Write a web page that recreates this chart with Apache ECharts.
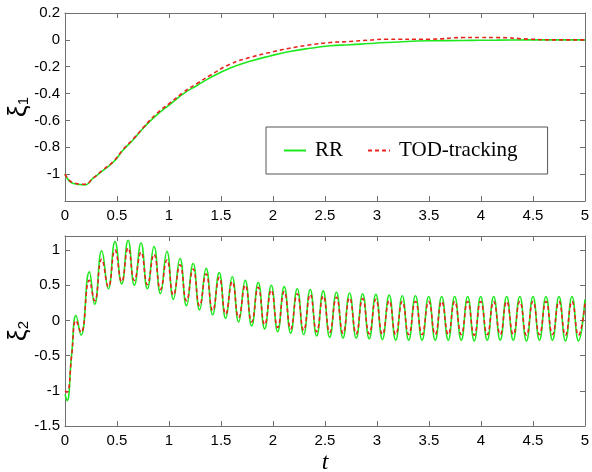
<!DOCTYPE html>
<html>
<head>
<meta charset="utf-8">
<script src="https://cdn.jsdelivr.net/npm/echarts@6/dist/echarts.min.js"></script>
<style>
	html, body { margin: 0; padding: 0; background: #fff; }
	#main { width: 592px; height: 472px; }
</style>
</head>
<body>
<div id="main"></div>
<script>
	// xi_1 samples (top panel)
	var t1 = [0, 0.08, 0.19, 0.27, 0.37, 0.465, 0.56, 0.66, 0.75, 0.88, 1.01, 1.14, 1.27, 1.39, 1.59, 1.78, 1.97, 2.16, 2.36, 2.55, 2.74, 2.93, 3.09, 3.51, 3.83, 3.99, 4.15, 4.47, 4.7, 5.0];
	var xi1RR = [-1.0, -1.07, -1.08, -1.03, -0.97, -0.91, -0.82, -0.74, -0.66, -0.56, -0.48, -0.40, -0.34, -0.285, -0.21, -0.16, -0.12, -0.087, -0.062, -0.044, -0.037, -0.027, -0.02, -0.007, -0.005, -0.003, -0.002, 0, 0, 0];
	var xi1TOD = [-1.0, -1.065, -1.075, -1.03, -0.965, -0.905, -0.815, -0.735, -0.655, -0.55, -0.47, -0.39, -0.325, -0.267, -0.18, -0.131, -0.094, -0.062, -0.037, -0.02, -0.012, -0.002, 0.005, 0.005, 0.017, 0.017, 0.017, 0.005, 0, 0];

	// xi_2 samples (bottom panel), peaks and troughs
	var t2 = [0, 0.02, 0.064, 0.106, 0.154, 0.234, 0.285, 0.353, 0.417, 0.481, 0.545, 0.607, 0.667, 0.731, 0.792, 0.856, 0.918, 0.98, 1.042, 1.106,
		1.168, 1.232, 1.294, 1.357, 1.42, 1.483, 1.545, 1.608, 1.67, 1.733, 1.795, 1.858, 1.92, 1.983, 2.045, 2.108, 2.17, 2.233, 2.295, 2.358,
		2.42, 2.483, 2.545, 2.61, 2.673, 2.736, 2.8, 2.862, 2.925, 2.989, 3.052, 3.117, 3.18, 3.243, 3.305, 3.37, 3.433, 3.497, 3.56, 3.622,
		3.685, 3.747, 3.81, 3.872, 3.935, 3.997, 4.06, 4.122, 4.185, 4.247, 4.31, 4.373, 4.437, 4.5, 4.562, 4.625, 4.687, 4.75, 4.812, 4.875,
		4.937, 5.0];
	var xi2RR = [-1.05, -1.14, -0.48, 0.07, -0.21, 0.69, 0.23, 0.99, 0.45, 1.12, 0.52, 1.14, 0.50, 1.10, 0.45, 1.05, 0.38, 0.98, 0.30, 0.88,
		0.21, 0.81, 0.15, 0.74, 0.08, 0.68, 0.03, 0.62, -0.02, 0.57, -0.08, 0.54, -0.12, 0.50, -0.16, 0.48, -0.18, 0.45, -0.20, 0.44,
		-0.22, 0.42, -0.24, 0.40, -0.25, 0.39, -0.25, 0.38, -0.26, 0.37, -0.27, 0.36, -0.28, 0.35, -0.28, 0.35, -0.28, 0.34, -0.28, 0.34,
		-0.28, 0.34, -0.28, 0.34, -0.29, 0.34, -0.28, 0.34, -0.28, 0.34, -0.28, 0.34, -0.29, 0.34, -0.28, 0.34, -0.28, 0.34, -0.29, 0.34,
		-0.29, 0.30];
	var xi2TOD = [-1.0, -1.02, -0.5, 0.0, -0.17, 0.57, 0.28, 0.87, 0.48, 1.0, 0.55, 1.03, 0.57, 0.97, 0.51, 0.94, 0.44, 0.86, 0.36, 0.79,
		0.28, 0.73, 0.21, 0.66, 0.14, 0.61, 0.09, 0.55, 0.04, 0.50, -0.02, 0.47, -0.06, 0.43, -0.10, 0.41, -0.12, 0.38, -0.14, 0.37,
		-0.16, 0.35, -0.17, 0.33, -0.18, 0.32, -0.19, 0.31, -0.19, 0.30, -0.20, 0.28, -0.20, 0.27, -0.20, 0.27, -0.20, 0.27, -0.20, 0.27,
		-0.20, 0.27, -0.20, 0.27, -0.21, 0.27, -0.20, 0.27, -0.20, 0.27, -0.20, 0.27, -0.21, 0.27, -0.20, 0.27, -0.20, 0.27, -0.21, 0.27,
		-0.21, 0.24];

	var xTicks = [0, 0.5, 1, 1.5, 2, 2.5, 3, 3.5, 4, 4.5, 5];

	var frameColor = '#707070';
	var labelFont = "'Liberation Sans Narrow', 'Liberation Sans', Arial, sans-serif";
	var serifFont = "'Liberation Serif', 'Times New Roman', serif";

	function pairs(xs, ys) {
		var out = [];
		for (var i = 0; i < xs.length; i++) {
			out.push([xs[i], ys[i]]);
		}
		return out;
	}

	// bottom axis with labels
	function mainX(gridIndex, name) {
		return {
			type: 'value', gridIndex: gridIndex, position: 'bottom',
			min: xTicks[0], max: xTicks[xTicks.length - 1], interval: 0.5,
			axisLine: { show: true, onZero: false, lineStyle: { color: frameColor, width: 1 } },
			axisTick: { show: true, inside: true, length: 5, lineStyle: { color: frameColor } },
			axisLabel: { color: '#000', fontSize: 15, fontFamily: labelFont, margin: 7 },
			splitLine: { show: false },
			name: name || '', nameLocation: 'middle', nameGap: 25,
			nameTextStyle: { fontFamily: serifFont, fontStyle: 'italic', fontSize: 24, color: '#000' }
		};
	}

	// mirrored axis without labels
	function mirrorX(gridIndex) {
		return {
			type: 'value', gridIndex: gridIndex, position: 'top',
			min: 0, max: 5, interval: 0.5,
			axisLine: { show: true, onZero: false, lineStyle: { color: frameColor, width: 1 } },
			axisTick: { show: true, inside: true, length: 5, lineStyle: { color: frameColor } },
			axisLabel: { show: false },
			splitLine: { show: false }
		};
	}

	function mainY(gridIndex, min, max, step, sub) {
		return {
			type: 'value', gridIndex: gridIndex, position: 'left',
			min: min, max: max, interval: step,
			axisLine: { show: true, onZero: false, lineStyle: { color: frameColor, width: 1 } },
			axisTick: { show: true, inside: true, length: 5, lineStyle: { color: frameColor } },
			axisLabel: {
				color: '#000', fontSize: 15, fontFamily: labelFont, margin: 5,
				showMinLabel: gridIndex === 1, showMaxLabel: gridIndex === 0
			},
			splitLine: { show: false },
			name: '{x|ξ}{s|' + sub + '}', nameLocation: 'middle', nameGap: 33, nameRotate: 90,
			nameMoveOverlap: false,
			nameTextStyle: {
				color: '#000',
				rich: {
					x: { fontFamily: labelFont, fontSize: 26, color: '#000' },
					s: { fontFamily: labelFont, fontSize: 15, color: '#000', padding: [10, 0, 0, 0] }
				}
			}
		};
	}

	function mirrorY(gridIndex, min, max, step) {
		return {
			type: 'value', gridIndex: gridIndex, position: 'right',
			min: min, max: max, interval: step,
			axisLine: { show: true, onZero: false, lineStyle: { color: frameColor, width: 1 } },
			axisTick: { show: true, inside: true, length: 5, lineStyle: { color: frameColor } },
			axisLabel: { show: false },
			splitLine: { show: false }
		};
	}

	function rrSeries(xi, yi, data) {
		return {
			name: 'RR', type: 'line', xAxisIndex: xi, yAxisIndex: yi,
			data: data, smooth: 0.5, showSymbol: false, symbol: 'none',
			lineStyle: { color: '#1ee81e', width: 1.6 }, itemStyle: { color: '#1ee81e' },
			animation: false
		};
	}

	function todSeries(xi, yi, data) {
		return {
			name: 'TOD-tracking', type: 'line', xAxisIndex: xi, yAxisIndex: yi,
			data: data, smooth: 0.5, showSymbol: false, symbol: 'none',
			lineStyle: { color: '#e8231e', width: 1.6, type: [4, 3] }, itemStyle: { color: '#e8231e' },
			animation: false
		};
	}

	var myChart = echarts.init(document.getElementById('main'), null, { renderer: 'canvas' });

	var option = {
		backgroundColor: '#fff',
		animation: false,
		grid: [
			{ left: 65, top: 13, width: 520, height: 188, containLabel: false, outerBoundsMode: 'none' },
			{ left: 65, top: 236, width: 520, height: 190, containLabel: false, outerBoundsMode: 'none' }
		],
		xAxis: [mainX(0), mirrorX(0), mainX(1, 't'), mirrorX(1)],
		yAxis: [mainY(0, -1.2, 0.2, 0.2, '1'), mirrorY(0, -1.2, 0.2, 0.2), mainY(1, -1.5, 1.2, 0.5, '2'), mirrorY(1, -1.5, 1.2, 0.5)],
		legend: {
			data: ['RR', 'TOD-tracking'],
			left: 266, top: 127,
			orient: 'horizontal',
			itemWidth: 22, itemHeight: 14, itemGap: 24,
			padding: [13, 30, 13, 17],
			backgroundColor: '#fff',
			borderColor: '#555', borderWidth: 1, borderRadius: 0,
			itemStyle: { opacity: 0 },
			textStyle: { fontFamily: serifFont, fontSize: 21, color: '#000', padding: [0, 0, 0, 4] }
		},
		series: [
			rrSeries(0, 0, pairs(t1, xi1RR)),
			todSeries(0, 0, pairs(t1, xi1TOD)),
			rrSeries(2, 2, pairs(t2, xi2RR)),
			todSeries(2, 2, pairs(t2, xi2TOD))
		]
	};

	myChart.setOption(option);
</script>
</body>
</html>
